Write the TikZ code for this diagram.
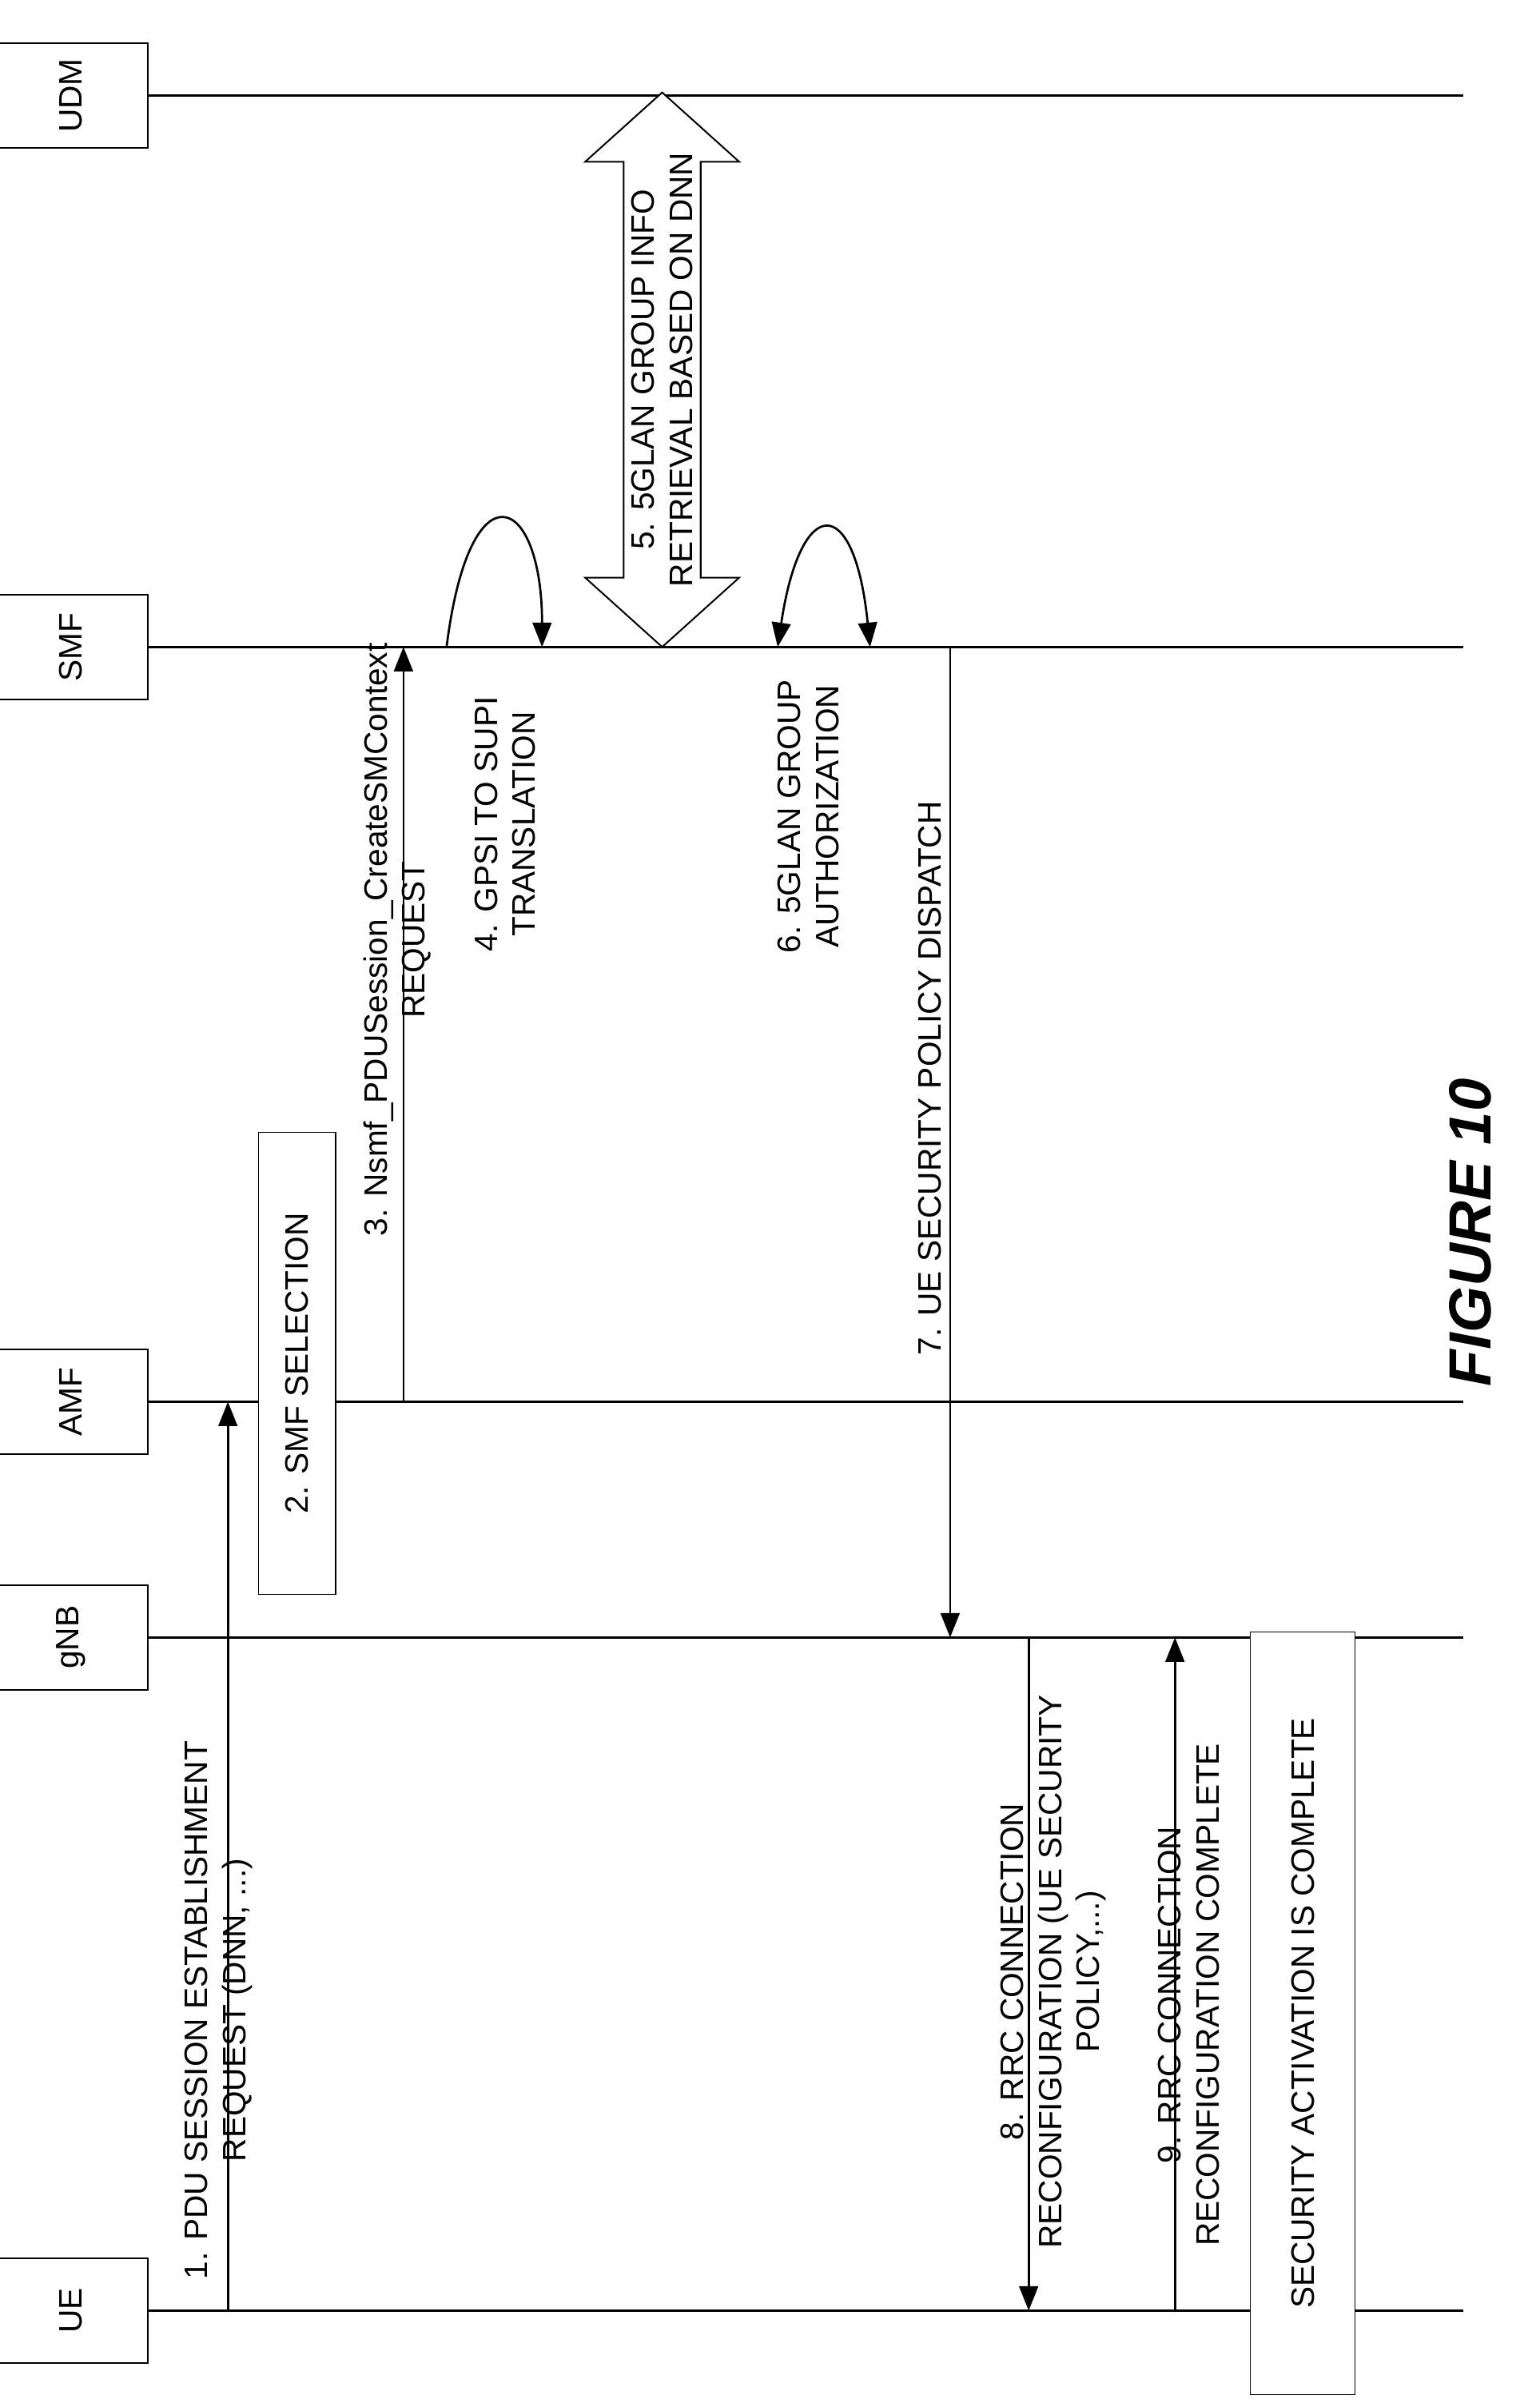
\documentclass[tikz,border=0pt]{standalone}
\usepackage{fontspec}
\setmainfont{Liberation Sans}
\usetikzlibrary{arrows.meta,positioning,calc}
\tikzset{
    entity/.style={draw, fill=white, minimum width=1.36cm, minimum height=2.0cm, font=\fontsize{12}{14}\selectfont, rotate=90},
    lifeline/.style={line width=0.8pt},
    msg/.style={line width=0.8pt, -{Triangle[length=9pt,width=7pt]}},
    lbl/.style={font=\fontsize{12}{14}\selectfont, align=center, rotate=90, inner sep=1pt},
    stepbox/.style={draw, fill=white, font=\fontsize{12}{14}\selectfont, align=center, rotate=90, inner sep=4pt},
}
\begin{document}
\begin{tikzpicture}[x=0.02cm, y=-0.02cm]
    \useasboundingbox (0,0) rectangle (1000,1560);

    % Lifelines
    \foreach \name/\ypos in {UDM/62, SMF/420, AMF/910, gNB/1063, UE/1500} {
        \draw[lifeline] (80,\ypos) -- (950,\ypos);
        \node[entity] (\name) at (46,\ypos) {\name};
    }

    % 1
    \coordinate (m1s) at (148,1500);
    \coordinate (m1e) at (148,910);
    \draw[msg] (m1s) -- (m1e);
    \node[lbl] (l1) at (142,1305) {1. PDU SESSION ESTABLISHMENT\\REQUEST (DNN, ...)};

    % 2
    \node[stepbox, minimum width=6cm, minimum height=1cm] (sel) at (193,885) {2. SMF SELECTION};

    % 3
    \coordinate (m3s) at (262,910);
    \coordinate (m3e) at (262,420);
    \draw[msg] (m3s) -- (m3e);
    \node[lbl] (l3) at (258,610) {3. Nsmf\_PDUSession\_CreateSMContext\\REQUEST};

    % 4
    \coordinate (m4s) at (290,420);
    \coordinate (m4e) at (352,420);
    \draw[msg] (m4s) .. controls (305,300) and (352,320) .. (m4e);
    \node[lbl] (l4) at (328,535) {4. GPSI TO SUPI\\TRANSLATION};

    % 5
    \draw[line width=0.6pt, fill=white] (430,60) -- (480,105) -- (455,105) -- (455,375) -- (480,375)
        -- (430,420) -- (380,375) -- (405,375) -- (405,105) -- (380,105) -- cycle;
    \node[lbl] (l5) at (430,240) {5. 5GLAN GROUP INFO\\RETRIEVAL BASED ON DNN};

    % 6
    \coordinate (m6s) at (565,420);
    \coordinate (m6e) at (505,420);
    \draw[msg, {Triangle[length=9pt,width=7pt]}-{Triangle[length=9pt,width=7pt]}] (m6e) .. controls (520,320) and (555,320) .. (m6s);
    \node[lbl] (l6) at (525,530) {6. 5GLAN GROUP\\AUTHORIZATION};

    % 7
    \coordinate (m7s) at (617,420);
    \coordinate (m7e) at (617,1063);
    \draw[msg] (m7s) -- (m7e);
    \node[lbl] (l7) at (604,700) {7. UE SECURITY POLICY DISPATCH};

    % 8
    \coordinate (m8s) at (668,1063);
    \coordinate (m8e) at (668,1500);
    \draw[msg] (m8s) -- (m8e);
    \node[lbl] (l8) at (684,1280) {8. RRC CONNECTION\\RECONFIGURATION (UE SECURITY\\POLICY,...)};

    % 9
    \coordinate (m9s) at (763,1500);
    \coordinate (m9e) at (763,1063);
    \draw[msg] (m9s) -- (m9e);
    \node[lbl] (l9) at (772,1295) {9. RRC CONNECTION\\RECONFIGURATION COMPLETE};

    % Security box
    \node[stepbox, minimum width=9.9cm, minimum height=1.36cm] (sec) at (846,1307) {SECURITY ACTIVATION IS COMPLETE};

    \node[font=\fontsize{22}{26}\selectfont\bfseries\itshape, rotate=90] (fig) at (955,800) {FIGURE 10};
\end{tikzpicture}
\end{document}
